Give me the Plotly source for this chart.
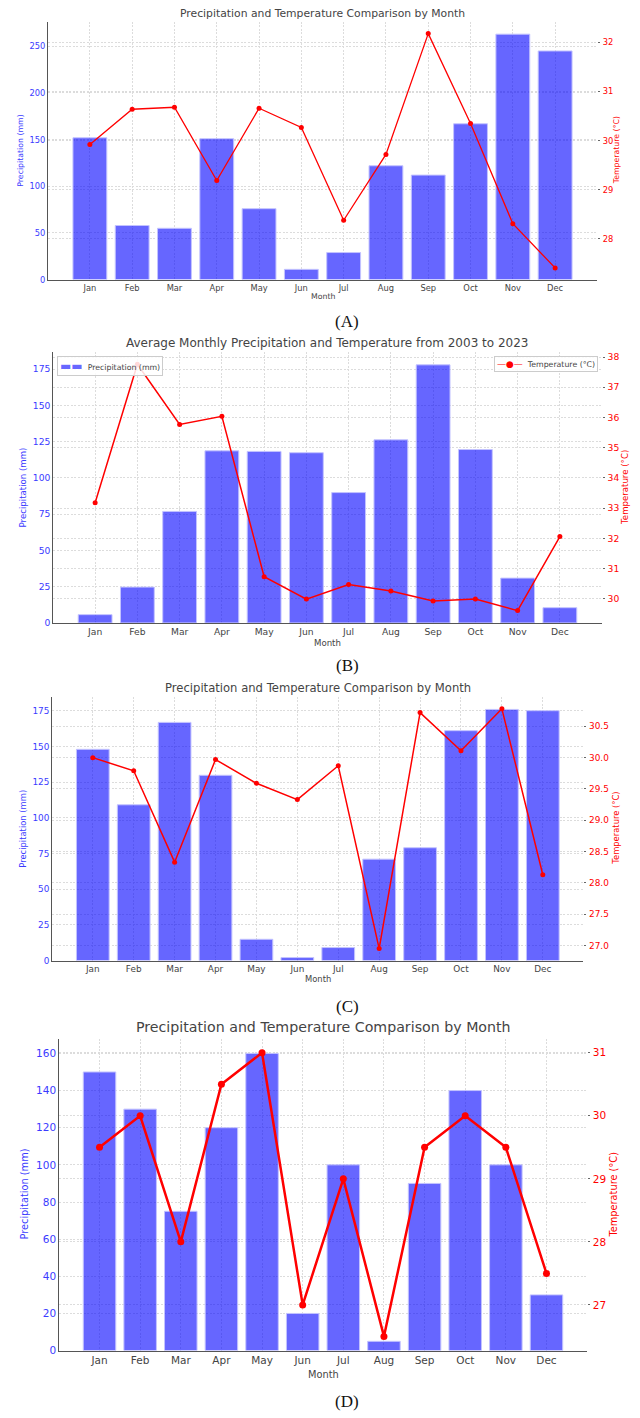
import plotly.graph_objects as go

# Monthly data for the four comparison panels
months = ["Jan", "Feb", "Mar", "Apr", "May", "Jun",
          "Jul", "Aug", "Sep", "Oct", "Nov", "Dec"]

precip_a = [152, 58, 55, 151, 76, 11, 29, 122, 112, 167, 263, 245]
temp_a = [29.92, 30.64, 30.68, 29.19, 30.66, 30.27, 28.38, 29.72, 32.18, 30.35, 28.31, 27.41]

precip_b = [5.7, 24.7, 76.9, 118.7, 118.3, 117.4, 89.9, 126.3, 178.0, 119.6, 30.9, 10.5]
temp_b = [33.18, 37.76, 35.77, 36.04, 30.73, 29.99, 30.47, 30.26, 29.93, 29.99, 29.61, 32.06]

precip_c = [148.1, 109.2, 167.0, 129.9, 14.9, 2.1, 9.1, 71.1, 79.1, 161.2, 176.1, 175.2]
temp_c = [30.0, 29.79, 28.33, 29.97, 29.59, 29.33, 29.87, 26.95, 30.72, 30.11, 30.78, 28.13]

precip_d = [150, 130, 75, 120, 160, 20, 100, 5, 90, 140, 100, 30]
temp_d = [29.5, 30, 28, 30.5, 31, 27, 29, 26.5, 29.5, 30, 29.5, 27.5]

titles = [
    "Precipitation and Temperature Comparison by Month",
    "Average Monthly Precipitation and Temperature from 2003 to 2023",
    "Precipitation and Temperature Comparison by Month",
    "Precipitation and Temperature Comparison by Month",
]
panel_labels = ["(A)", "(B)", "(C)", "(D)"]

W, H = 640, 1418

# Pixel frames of each panel's plot area: left, right, top, bottom
frames = [
    (48, 597, 21, 280),
    (53.3, 601.7, 352.7, 625),
    (52.3, 583.3, 699.3, 964.3),
    (59.3, 586.7, 1042.7, 1356.3),
]
# per-panel styling
styles = [
    dict(title=10.8, tick=8.3, label=7.8, lw=1.3, ms=5, title_y=13, month_y=297,
         ltitle_x=21, rtitle_x=616.5, plabel_y=322, pdtick=50, tdtick=1, tfmt=None),
    dict(title=12.0, tick=9.2, label=8.6, lw=1.5, ms=5, title_y=343.5, month_y=645,
         ltitle_x=23, rtitle_x=625.5, plabel_y=668, pdtick=25, tdtick=1, tfmt=None),
    dict(title=11.6, tick=8.9, label=8.4, lw=1.5, ms=5, title_y=690.7, month_y=983.3,
         ltitle_x=23, rtitle_x=616, plabel_y=1010, pdtick=25, tdtick=0.5, tfmt=".1f"),
    dict(title=14.2, tick=10.5, label=9.8, lw=2.5, ms=7, title_y=1031.5, month_y=1380,
         ltitle_x=25, rtitle_x=614, plabel_y=1407.5, pdtick=20, tdtick=1, tfmt=None),
]
precip_sets = [precip_a, precip_b, precip_c, precip_d]
temp_sets = [temp_a, temp_b, temp_c, temp_d]

BAR = "rgba(0,0,255,0.6)"
BAR_EDGE = "rgba(195,195,255,1)"
BLUE_TXT = "#3b3bff"
RED = "#ff0000"
GRID = "#dcdcdc"
DASH = "2px,1.5px"
DARK = "#444444"
FONT = "DejaVu Sans"

fig = go.Figure()
layout = {}
annotations = []

for i in range(4):
    left, right, top, bottom = frames[i]
    st = styles[i]
    xs = "" if i == 0 else str(i + 1)
    yl = str(2 * i + 1) if i > 0 else ""
    yr = str(2 * i + 2)
    x_ref, yl_ref, yr_ref = "x" + xs, "y" + yl, "y" + yr

    p, t = precip_sets[i], temp_sets[i]

    fig.add_trace(go.Bar(
        x=months, y=p, width=0.8, name="Precipitation (mm)",
        marker=dict(color=BAR, line=dict(color=BAR_EDGE, width=1)),
        xaxis=x_ref, yaxis=yl_ref, showlegend=False,
    ))
    fig.add_trace(go.Scatter(
        x=months, y=t, mode="lines+markers", name="Temperature (°C)",
        line=dict(color=RED, width=st["lw"]),
        marker=dict(color=RED, size=st["ms"]),
        xaxis=x_ref, yaxis=yr_ref, showlegend=False,
    ))

    xdom = [left / W, right / W]
    ydom = [1 - bottom / H, 1 - top / H]

    # autoscale with a 5% margin around the data
    pmax = max(p) * 1.05
    tlo, thi = min(t), max(t)
    tpad = (thi - tlo) * 0.05

    layout["xaxis" + xs] = dict(
        domain=xdom, anchor=yl_ref, range=[-0.99, 11.99], type="category",
        showgrid=True, gridcolor=GRID, griddash=DASH, gridwidth=0.8,
        showline=True, linecolor="#555555", linewidth=1.2,
        ticks="", tickfont=dict(family=FONT, size=st["tick"], color=DARK),
        ticklabelstandoff=0, zeroline=False,
    )
    layout["yaxis" + yl] = dict(
        domain=ydom, anchor=x_ref, range=[0, pmax], dtick=st["pdtick"], tick0=0,
        showgrid=True, gridcolor=GRID, griddash=DASH, gridwidth=0.8,
        showline=True, linecolor="#555555", linewidth=1.2,
        ticks="", tickfont=dict(family=FONT, size=st["tick"], color=BLUE_TXT),
        ticklabelstandoff=0, zeroline=False,
    )
    ry = dict(
        overlaying=yl_ref, side="right", anchor=x_ref,
        range=[tlo - tpad, thi + tpad], dtick=st["tdtick"], tick0=0,
        showgrid=True, gridcolor=GRID, griddash=DASH, gridwidth=0.8,
        showline=False, ticks="outside", ticklen=2, tickcolor="#666666",
        tickfont=dict(family=FONT, size=st["tick"], color=RED),
        ticklabelstandoff=1, zeroline=False,
    )
    if st["tfmt"]:
        ry["tickformat"] = st["tfmt"]
    layout["yaxis" + yr] = ry

    cx = (left + right) / 2
    cy = (top + bottom) / 2
    annotations += [
        dict(text=titles[i], x=cx / W, y=1 - st["title_y"] / H, xref="paper", yref="paper",
             xanchor="center", yanchor="middle", showarrow=False,
             font=dict(family=FONT, size=st["title"], color=DARK)),
        dict(text="Month", x=cx / W, y=1 - st["month_y"] / H, xref="paper", yref="paper",
             xanchor="center", yanchor="middle", showarrow=False,
             font=dict(family=FONT, size=st["label"], color=DARK)),
        dict(text="Precipitation (mm)", x=st["ltitle_x"] / W, y=1 - cy / H,
             xref="paper", yref="paper", textangle=-90, xanchor="center", yanchor="middle",
             showarrow=False, font=dict(family=FONT, size=st["label"], color=BLUE_TXT)),
        dict(text="Temperature (°C)", x=st["rtitle_x"] / W, y=1 - cy / H,
             xref="paper", yref="paper", textangle=-90, xanchor="center", yanchor="middle",
             showarrow=False, font=dict(family=FONT, size=st["label"], color=RED)),
        dict(text=panel_labels[i], x=347 / W, y=1 - st["plabel_y"] / H,
             xref="paper", yref="paper", xanchor="center", yanchor="middle",
             showarrow=False, font=dict(family="Liberation Serif", size=17, color="#111111")),
    ]

# Legend boxes for panel B (precipitation top-left, temperature top-right)
legend_font = dict(family=FONT, size=7.8, color=DARK)
annotations += [
    dict(text='<span style="color:rgba(0,0,255,0.6);font-size:12px">▬▬</span>  '
              'Precipitation (mm)',
         x=57 / W, y=1 - 356.5 / H, xref="paper", yref="paper",
         xanchor="left", yanchor="top", showarrow=False, align="left",
         bgcolor="rgba(255,255,255,0.85)", bordercolor="#cccccc", borderwidth=1,
         borderpad=2, font=legend_font),
    dict(text='<span style="color:#ff0000;font-size:9px">—●—</span>  '
              'Temperature (°C)',
         x=597.7 / W, y=1 - 356.5 / H, xref="paper", yref="paper",
         xanchor="right", yanchor="top", showarrow=False, align="left",
         bgcolor="rgba(255,255,255,0.85)", bordercolor="#cccccc", borderwidth=1,
         borderpad=2, font=legend_font),
]

fig.update_layout(
    width=W, height=H, autosize=False,
    margin=dict(l=0, r=0, t=0, b=0),
    paper_bgcolor="white", plot_bgcolor="white",
    showlegend=False,
    annotations=annotations,
    **layout,
)

fig.write_html("out.html")
